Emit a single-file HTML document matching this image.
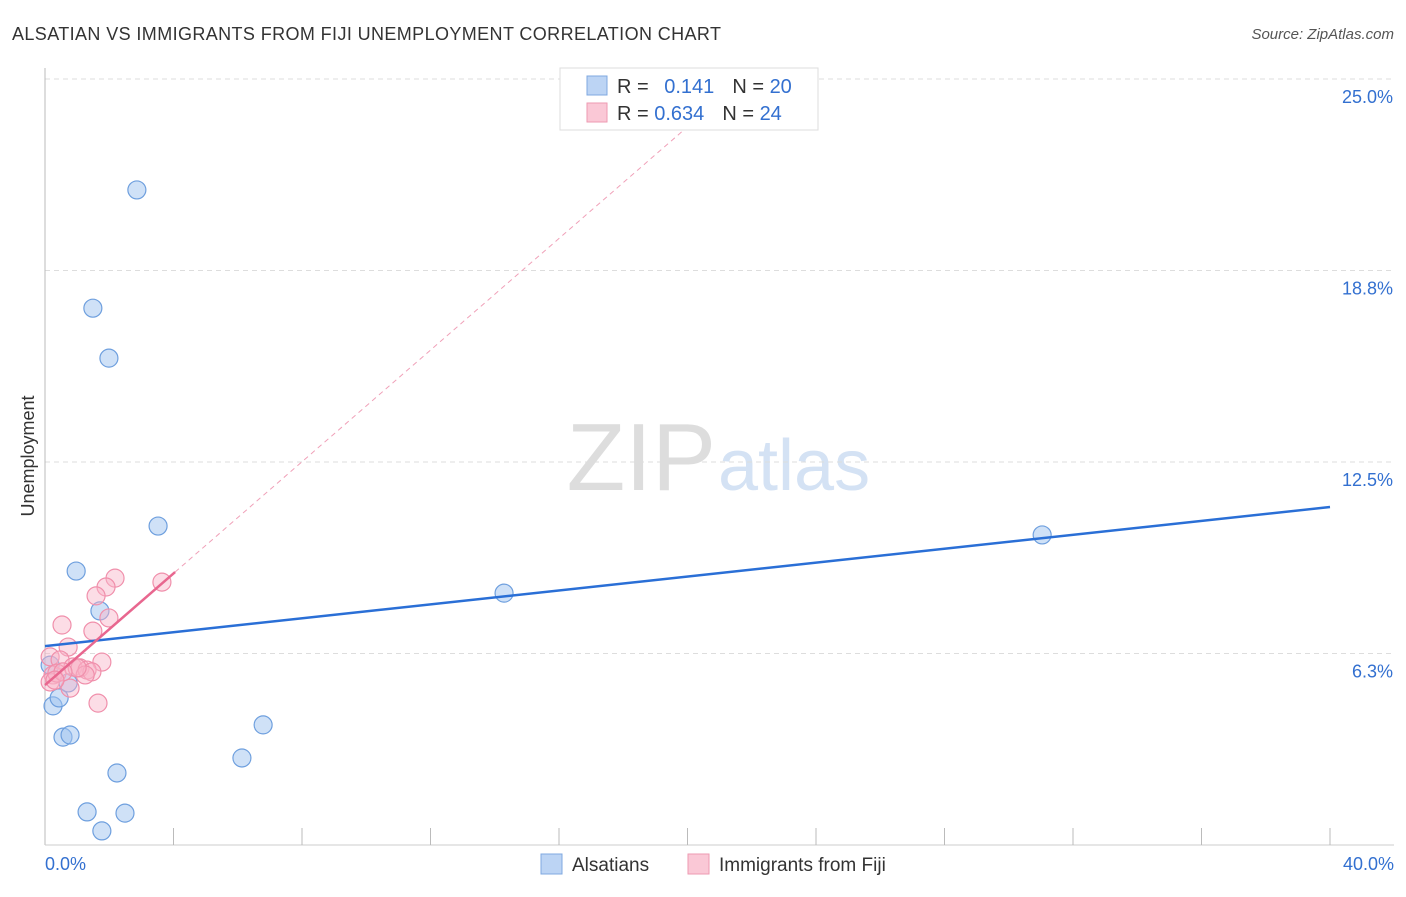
<!DOCTYPE html>
<html><head><meta charset="utf-8"><style>
body{margin:0;background:#fff;font-family:"Liberation Sans",sans-serif;}
svg text{font-family:"Liberation Sans",sans-serif;}
</style></head><body>
<svg id="c" width="1406" height="892">
<text x="12" y="40" font-size="18" fill="#333" textLength="709" lengthAdjust="spacing">ALSATIAN VS IMMIGRANTS FROM FIJI UNEMPLOYMENT CORRELATION CHART</text>
<text x="1394" y="39" font-size="15" fill="#555" text-anchor="end" font-style="italic">Source: ZipAtlas.com</text>
<text x="716" y="490" font-size="96" fill="#ddd" text-anchor="end" font-family="Liberation Serif">ZIP</text>
<text x="718" y="490" font-size="72" fill="#d4e2f4">atlas</text>
<text transform="translate(34,456) rotate(-90)" font-size="18" fill="#333" text-anchor="middle">Unemployment</text>
<g id="grid"></g><g id="marks"></g>
<g>
<rect x="560" y="68" width="258" height="62" fill="#fff" stroke="#ddd"/>
<rect x="587" y="76" width="20" height="19" fill="#bcd4f4" stroke="#7fa8e0"/>
<rect x="587" y="103" width="20" height="19" fill="#fac8d6" stroke="#ee9ab2"/>
<text x="617" y="93" font-size="20" fill="#333">R = <tspan fill="#3370d0" dx="10">0.141</tspan><tspan fill="#333" dx="18">N = </tspan><tspan fill="#3370d0">20</tspan></text>
<text x="617" y="120" font-size="20" fill="#333">R = <tspan fill="#3370d0">0.634</tspan><tspan fill="#333" dx="18">N = </tspan><tspan fill="#3370d0">24</tspan></text>
</g>
<g>
<rect x="541" y="854" width="21" height="20" fill="#bcd4f4" stroke="#7fa8e0"/>
<text x="572" y="871" font-size="19" fill="#333">Alsatians</text>
<rect x="688" y="854" width="21" height="20" fill="#fac8d6" stroke="#ee9ab2"/>
<text x="719" y="871" font-size="19" fill="#333">Immigrants from Fiji</text>
</g>
</svg>
<script>
const yTicks=[6.25,12.5,18.75,25];
const yTickLabels=["6.3%","12.5%","18.8%","25.0%"];
const xTickLabels=["0.0%","40.0%"];
const blueX=[2.86,1.49,1.99,3.52,0.97,1.71,14.29,31.04,6.79,6.13,2.24,1.31,2.49,1.77,0.25,0.44,0.56,0.78,0.16,0.72];
const blueY=[21.38,17.52,15.89,10.41,8.94,7.64,8.22,10.12,3.92,2.84,2.35,1.08,1.04,0.46,4.54,4.80,3.52,3.59,5.87,5.29];
const pinkX=[2.18,1.90,1.59,1.99,0.53,1.49,3.64,0.72,1.77,1.65,0.78,0.16,0.47,0.87,1.09,1.31,1.46,1.25,0.25,0.16,1.00,0.37,0.56,0.31];
const pinkY=[8.71,8.42,8.13,7.41,7.18,6.98,8.58,6.46,5.97,4.63,5.12,6.14,6.04,5.81,5.78,5.71,5.65,5.55,5.55,5.32,5.78,5.61,5.65,5.38];
const blueTrend=[6.49,11.03];
const pinkTrend=[5.22,0.911];
const X=v=>45+v*1285/40, Y=v=>845-v*30.64;
const NS="http://www.w3.org/2000/svg";
const g=document.getElementById('grid'), m=document.getElementById('marks');
function mk(p,tag,a){const e=document.createElementNS(NS,tag);for(const k in a)e.setAttribute(k,a[k]);p.appendChild(e);return e;}
yTicks.forEach((t,i)=>{
 const l=mk(g,'line',{x1:45,x2:1394,y1:Y(t),y2:Y(t),stroke:'#ddd','stroke-dasharray':'5,4'});
 
 
 const tx=mk(g,'text',{x:1393,y:Y(t)+24,'font-size':18,fill:'#3370d0','text-anchor':'end'});tx.textContent=yTickLabels[i];
 
 
});
mk(g,'line',{x1:45,x2:45,y1:68,y2:845,stroke:'#bbb'});
mk(g,'line',{x1:45,x2:1394,y1:845,y2:845,stroke:'#ccc'});
for(let i=1;i<=10;i++){const l=mk(g,'line',{x1:X(i*4),x2:X(i*4),y1:828,y2:845,stroke:'#bbb'});
 
 }
[[0,'start',45],[40,'end',1394]].forEach((d,i)=>{const t=mk(g,'text',{x:d[2],y:870,'font-size':18,fill:'#3370d0','text-anchor':d[1]});t.textContent=xTickLabels[i];
 
 });
const xEnd=(25-pinkTrend[0])/pinkTrend[1];
const pd=mk(m,'line',{x1:X(4.05),y1:Y(pinkTrend[0]+pinkTrend[1]*4.05),x2:X(xEnd),y2:Y(25),stroke:'#f0a0b8','stroke-dasharray':'5,4','stroke-width':1});


blueX.forEach((x,i)=>{const c=mk(m,'circle',{cx:X(x),cy:Y(blueY[i]),r:9,fill:'rgba(160,195,240,0.5)',stroke:'#6e9fde','stroke-width':1.2});
 
 });
pinkX.forEach((x,i)=>{const c=mk(m,'circle',{cx:X(x),cy:Y(pinkY[i]),r:9,fill:'rgba(248,180,200,0.45)',stroke:'#f08fab','stroke-width':1.2});
 
 });
const bl=mk(m,'line',{x1:X(0),y1:Y(blueTrend[0]),x2:X(40),y2:Y(blueTrend[1]),stroke:'#2a6fd6','stroke-width':2.5});


const pl=mk(m,'line',{x1:X(0),y1:Y(pinkTrend[0]),x2:X(4.05),y2:Y(pinkTrend[0]+pinkTrend[1]*4.05),stroke:'#e8678f','stroke-width':2.5});


</script>
</body></html>
